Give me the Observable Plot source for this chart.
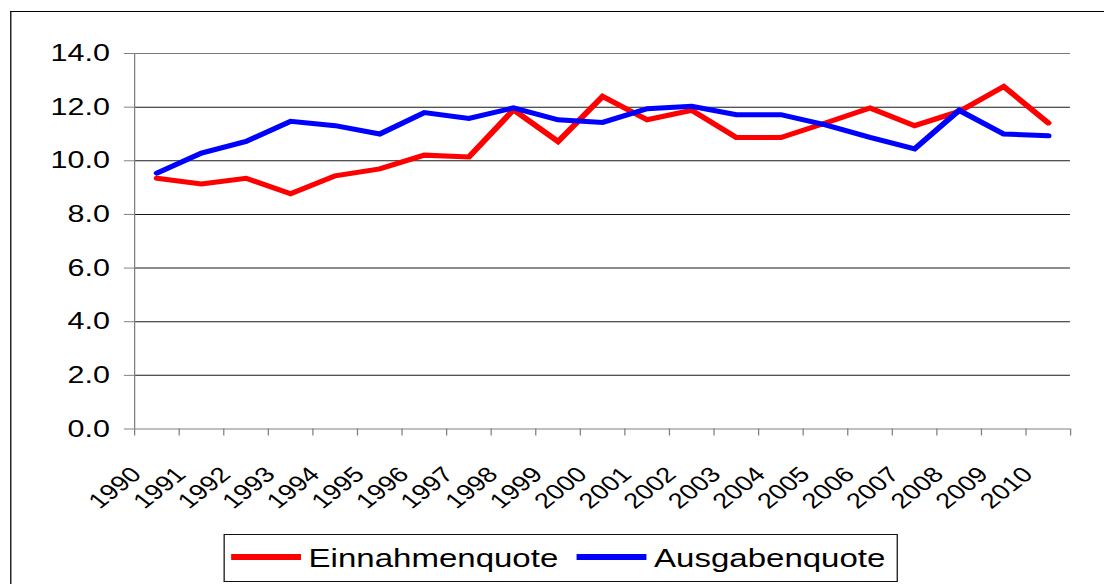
<!DOCTYPE html>
<html>
<head>
<meta charset="utf-8">
<script src="https://cdn.jsdelivr.net/npm/d3@7"></script>
<script src="https://cdn.jsdelivr.net/npm/@observablehq/plot@0.6"></script>
<style>
  html, body { margin: 0; padding: 0; background: #fff; overflow: hidden; width: 1104px; height: 584px; }
  #stage { position: absolute; left: 0; top: 0; width: 869.3px; height: 584px; transform: scaleX(1.27); transform-origin: 0 0; font-family: "Liberation Sans", Arial, sans-serif; }
  #frame { position: absolute; left: 7.9px; top: 11px; width: 2000px; height: 2000px; border-top: 1.5px solid #000; border-left: 1.5px solid #000; }
  #chart { position: absolute; left: 0; top: 0; }
  #legend { position: absolute; left: 175.6px; top: 534px; width: 531px; height: 48px; border: 1px solid #111; box-sizing: border-box; background: #fff; }
  .sw { position: absolute; top: 19px; width: 55px; height: 5.5px; }
  .lt { position: absolute; top: 10px; font-size: 26px; line-height: 26px; color: #000; white-space: nowrap; }
</style>
</head>
<body>
<div id="stage">
  <div id="frame"></div>
  <div id="chart"></div>
  <div id="legend"></div>
</div>
<script>
// ---- data ----
const years = [1990, 1991, 1992, 1993, 1994, 1995, 1996, 1997, 1998, 1999, 2000,
               2001, 2002, 2003, 2004, 2005, 2006, 2007, 2008, 2009, 2010];
const einnahmenquote = [9.35, 9.14, 9.35, 8.77, 9.44, 9.70, 10.21, 10.14, 11.90, 10.72, 12.40,
                        11.53, 11.88, 10.87, 10.87, 11.41, 11.97, 11.31, 11.84, 12.77, 11.41];
const ausgabenquote  = [9.54, 10.29, 10.72, 11.47, 11.31, 11.00, 11.80, 11.58, 11.97, 11.53, 11.43,
                        11.94, 12.03, 11.72, 11.72, 11.34, 10.87, 10.44, 11.88, 11.00, 10.93];
const seriesNames = ["Einnahmenquote", "Ausgabenquote"];
const seriesColors = ["#ff0000", "#0000ff"];
const yTicks = [0, 2, 4, 6, 8, 10, 12, 14];

// long table built from the arrays
const rows = [];
years.forEach((y, i) => {
  rows.push({year: y, series: seriesNames[0], value: einnahmenquote[i]});
  rows.push({year: y, series: seriesNames[1], value: ausgabenquote[i]});
});
// category boundaries (tick marks between years)
const boundaries = [years[0] - 0.5, ...years.map(y => y + 0.5)];

const chart = Plot.plot({
  width: 869.3,
  height: 530,
  marginLeft: 105.5,
  marginRight: 26.8,
  marginTop: 53,
  marginBottom: 101.5,
  style: { fontFamily: "Liberation Sans, Arial, sans-serif", background: "transparent", color: "#000" },
  x: { type: "linear", domain: [boundaries[0], boundaries[boundaries.length - 1]], axis: null, label: null },
  y: { domain: [0, 14], axis: null, label: null },
  color: { domain: seriesNames, range: seriesColors },
  marks: [
    Plot.ruleY(yTicks.filter(d => d > 0), { stroke: d => d === 14 ? "#7a7a7a" : "#1a1a1a", strokeWidth: 1 }),
    Plot.ruleY([0], { stroke: "#808080", strokeWidth: 1 }),
    Plot.ruleX([boundaries[0]], { y1: 0, y2: 14, stroke: "#808080", strokeWidth: 1 }),
    Plot.axisY({ ticks: yTicks, label: null, tickSize: 8, tickPadding: 11.5, tickFormat: d => d.toFixed(1), fontSize: 24, stroke: "#808080", fill: "#000" }),
    Plot.axisX({ ticks: boundaries, label: null, tickSize: 7, tickFormat: () => "", stroke: "#808080" }),
    Plot.axisX({ ticks: years, label: null, tickSize: 0, tickPadding: 42, tickRotate: -45, dx: -16, fontSize: 21.5, tickFormat: d => String(d), fill: "#000" }),
    Plot.line(rows, { x: "year", y: "value", z: "series", stroke: "series", strokeWidth: 5, strokeLinejoin: "miter", strokeMiterlimit: 4 })
  ]
});
document.getElementById("chart").appendChild(chart);

// legend
const legend = document.getElementById("legend");
const swLeft = [5.3, 277];
const txLeft = [66.4, 338.4];
seriesNames.forEach((name, i) => {
  const sw = document.createElement("div");
  sw.className = "sw";
  sw.style.left = swLeft[i] + "px";
  sw.style.background = seriesColors[i];
  legend.appendChild(sw);
  const t = document.createElement("div");
  t.className = "lt";
  t.style.left = txLeft[i] + "px";
  t.textContent = name;
  legend.appendChild(t);
});
</script>
</body>
</html>
